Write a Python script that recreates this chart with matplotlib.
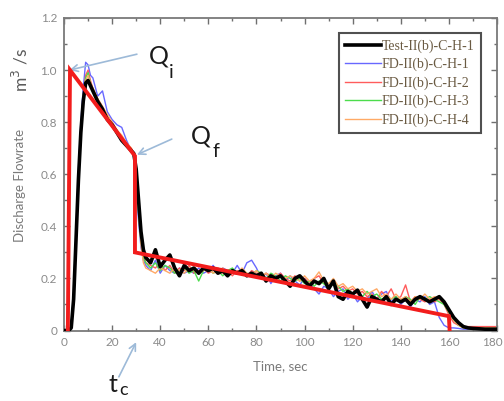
import matplotlib
matplotlib.use("Agg")
import matplotlib.pyplot as plt
import matplotlib.transforms as mtransforms
from matplotlib.ticker import MultipleLocator, FuncFormatter

# ---- data -------------------------------------------------------------
time_s = [0, 2, 3, 4, 5, 6, 7, 8, 9, 10, 11, 12,
          14, 16, 18, 20, 22, 24, 26, 28, 29, 30, 31, 32, 33, 34,
          36, 38, 40, 42, 44, 46, 48, 50, 52, 54,
          56, 58, 60, 62, 64, 66, 68, 70, 72, 74,
          76, 78, 80, 82, 84, 86, 88, 90, 92, 94,
          96, 98, 100, 102, 104, 106, 108, 110, 112, 114,
          116, 118, 120, 122, 124, 126, 128, 130, 132, 134,
          136, 138, 140, 142, 144, 146, 148, 150, 152, 154,
          156, 158, 160, 162, 164, 166, 168, 170, 175, 180]

test_1 = [0, 0, 0.01, 0.12, 0.35, 0.58, 0.76, 0.88, 0.95, 0.96, 0.94, 0.92,
          0.88, 0.85, 0.81, 0.79, 0.76, 0.73, 0.71, 0.69, 0.68, 0.62, 0.50, 0.38, 0.31, 0.28,
          0.26, 0.31, 0.245, 0.27, 0.29, 0.24, 0.21, 0.25, 0.23, 0.24,
          0.22, 0.24, 0.23, 0.24, 0.22, 0.23, 0.21, 0.23, 0.22, 0.23,
          0.21, 0.22, 0.21, 0.22, 0.19, 0.21, 0.20, 0.21, 0.19, 0.17,
          0.20, 0.21, 0.19, 0.17, 0.19, 0.18, 0.20, 0.16, 0.19, 0.13,
          0.12, 0.15, 0.14, 0.155, 0.12, 0.09, 0.13, 0.12, 0.11, 0.13,
          0.10, 0.12, 0.11, 0.12, 0.10, 0.12, 0.13, 0.12, 0.11, 0.12,
          0.13, 0.11, 0.08, 0.05, 0.03, 0.015, 0.01, 0.008, 0.005, 0.005]

fd_1 = [0, 0, 0.02, 0.15, 0.38, 0.62, 0.80, 0.93, 1.03, 1.02, 0.98, 0.97,
        0.90, 0.92, 0.84, 0.81, 0.79, 0.78, 0.73, 0.69, 0.67, 0.55, 0.42, 0.32, 0.27, 0.25,
        0.23, 0.27, 0.22, 0.25, 0.23, 0.22, 0.24, 0.22, 0.23, 0.22,
        0.24, 0.22, 0.23, 0.25, 0.22, 0.24, 0.23, 0.22, 0.25, 0.22,
        0.26, 0.27, 0.24, 0.20, 0.22, 0.18, 0.21, 0.22, 0.19, 0.21,
        0.19, 0.175, 0.20, 0.18, 0.16, 0.14, 0.17, 0.16, 0.13, 0.15,
        0.16, 0.12, 0.14, 0.11, 0.13, 0.12, 0.15, 0.12, 0.14, 0.15,
        0.11, 0.13, 0.10, 0.12, 0.09, 0.12, 0.11, 0.13, 0.10, 0.11,
        0.05, 0.02, 0.01, 0.01, 0.008, 0.005, 0.005, 0.005, 0.005, 0.005]

fd_2 = [0, 0, 0.01, 0.13, 0.36, 0.60, 0.78, 0.90, 0.98, 1.00, 0.96, 0.93,
        0.89, 0.86, 0.82, 0.80, 0.77, 0.74, 0.72, 0.70, 0.68, 0.60, 0.47, 0.35, 0.29, 0.26,
        0.25, 0.24, 0.26, 0.23, 0.25, 0.22, 0.24, 0.23, 0.25, 0.22,
        0.23, 0.24, 0.22, 0.23, 0.24, 0.22, 0.23, 0.21, 0.23, 0.22,
        0.21, 0.23, 0.22, 0.20, 0.22, 0.21, 0.20, 0.22, 0.20, 0.19,
        0.21, 0.19, 0.20, 0.18, 0.20, 0.21, 0.18, 0.17, 0.19, 0.16,
        0.17, 0.15, 0.16, 0.14, 0.15, 0.13, 0.14, 0.12, 0.15, 0.13,
        0.16, 0.12, 0.13, 0.175, 0.11, 0.13, 0.12, 0.11, 0.12, 0.11,
        0.12, 0.10, 0.06, 0.03, 0.02, 0.015, 0.015, 0.015, 0.015, 0.015]

fd_3 = [0, 0, 0.01, 0.14, 0.37, 0.60, 0.78, 0.90, 0.97, 0.99, 0.95, 0.92,
        0.88, 0.85, 0.82, 0.79, 0.77, 0.74, 0.71, 0.69, 0.68, 0.58, 0.45, 0.34, 0.28, 0.26,
        0.24, 0.26, 0.23, 0.25, 0.24, 0.22, 0.23, 0.24, 0.22, 0.23,
        0.19, 0.23, 0.24, 0.22, 0.23, 0.21, 0.23, 0.24, 0.22, 0.23,
        0.22, 0.21, 0.23, 0.22, 0.20, 0.22, 0.21, 0.19, 0.21, 0.20,
        0.19, 0.20, 0.18, 0.19, 0.17, 0.19, 0.18, 0.16, 0.18, 0.17,
        0.15, 0.16, 0.14, 0.15, 0.13, 0.15, 0.13, 0.14, 0.12, 0.13,
        0.12, 0.13, 0.11, 0.13, 0.12, 0.10, 0.13, 0.12, 0.13, 0.12,
        0.11, 0.10, 0.07, 0.04, 0.02, 0.01, 0.01, 0.01, 0.01, 0.01]

fd_4 = [0, 0, 0.01, 0.13, 0.36, 0.59, 0.77, 0.89, 0.96, 0.98, 0.95, 0.93,
        0.89, 0.86, 0.83, 0.80, 0.77, 0.75, 0.72, 0.70, 0.68, 0.59, 0.46, 0.33, 0.26, 0.24,
        0.23, 0.22, 0.24, 0.23, 0.22, 0.24, 0.23, 0.22, 0.24, 0.23,
        0.22, 0.23, 0.24, 0.22, 0.23, 0.24, 0.22, 0.23, 0.22, 0.24,
        0.22, 0.21, 0.23, 0.21, 0.22, 0.20, 0.22, 0.21, 0.20, 0.21,
        0.20, 0.19, 0.21, 0.19, 0.20, 0.225, 0.19, 0.18, 0.20, 0.17,
        0.18, 0.16, 0.17, 0.15, 0.16, 0.14, 0.15, 0.16, 0.13, 0.14,
        0.12, 0.14, 0.12, 0.13, 0.11, 0.13, 0.12, 0.14, 0.12, 0.13,
        0.12, 0.11, 0.08, 0.04, 0.02, 0.01, 0.01, 0.01, 0.01, 0.01]

# idealised hydrograph: rise to Q_i, fall to Q_f at t_c, step down, linear recession
ideal_t = [1.6, 2.5, 29.5, 29.5, 160, 160.3]
ideal_q = [0.0, 1.0, 0.67, 0.30, 0.055, 0.0]

series_labels = ["Test-II(b)-C-H-1", "FD-II(b)-C-H-1", "FD-II(b)-C-H-2",
                 "FD-II(b)-C-H-3", "FD-II(b)-C-H-4"]
x_ticks = [0, 20, 40, 60, 80, 100, 120, 140, 160, 180]
y_ticks = [0, 0.2, 0.4, 0.6, 0.8, 1.0, 1.2]

# ---- figure -----------------------------------------------------------
W, H = 504, 401
fig = plt.figure(figsize=(W / 100, H / 100), dpi=100)
ax = fig.add_axes([64 / W, 1 - 330.5 / H, 433 / W, 312.5 / H])

thin = 1.0
ax.plot(time_s, fd_1, color="#6868ff", lw=thin, zorder=2, label=series_labels[1])
ax.plot(time_s, fd_2, color="#ff5c5c", lw=thin, zorder=2, label=series_labels[2])
ax.plot(time_s, fd_3, color="#4cdc4c", lw=thin, zorder=2, label=series_labels[3])
ax.plot(time_s, fd_4, color="#ffaa66", lw=thin, zorder=2, label=series_labels[4])
ax.plot(time_s, test_1, color="black", lw=2.6, zorder=3, label=series_labels[0])
ax.plot(ideal_t, ideal_q, color="#f21c1c", lw=2.8, zorder=4, solid_joinstyle="miter")

ax.set_xlim(0, 180)
ax.set_ylim(0, 1.2)
ax.set_xticks(x_ticks)
ax.set_yticks(y_ticks)
ax.xaxis.set_minor_locator(MultipleLocator(10))
ax.yaxis.set_minor_locator(MultipleLocator(0.1))
ax.yaxis.set_major_formatter(FuncFormatter(lambda v, p: "0" if v == 0 else f"{v:.1f}"))

tick_col = "#8a8a8a"
for sp in ax.spines.values():
    sp.set_color("#7a7a7a")
    sp.set_linewidth(1.3)
ax.tick_params(which="both", direction="in", top=True, right=True,
               colors="#6f6f6f", labelcolor=tick_col, width=1.0)
ax.tick_params(which="major", length=4.5, labelsize=8.5, pad=5)
ax.tick_params(which="minor", length=2.5)
for lab in ax.get_xticklabels() + ax.get_yticklabels():
    lab.set_family("Lato")

# keep the last time label inside the canvas
fig.canvas.draw()
last = ax.get_xticklabels()[-1]
last.set_transform(last.get_transform() +
                   mtransforms.ScaledTranslation(-5 / 100, 0, fig.dpi_scale_trans))

# legend: order test first, then FD runs
handles, labels = ax.get_legend_handles_labels()
order = [4, 0, 1, 2, 3]
leg = ax.legend([handles[i] for i in order], [labels[i] for i in order],
                loc="upper right", bbox_to_anchor=(0.963, 0.952),
                prop={"family": "Liberation Serif", "size": 10},
                frameon=True, fancybox=False, framealpha=1,
                edgecolor="#505050", handlelength=2.6, handletextpad=0.05,
                labelspacing=0.36, borderpad=0.45, borderaxespad=0)
leg.get_frame().set_linewidth(1.5)
for t in leg.get_texts():
    t.set_color("#6a5a42")


def fx(px):
    return px / W


def fy(py):
    return 1 - py / H


# axis titles
fig.text(fx(280), fy(366), "Time, sec", ha="center", va="center",
         family="Lato", fontsize=9.5, color="#7a7a7a")
fig.text(fx(20), fy(185), "Discharge Flowrate", ha="center", va="center",
         rotation=90, family="Lato", fontsize=9.5, color="#7a7a7a")
fig.text(fx(20), fy(70), "m$^3$ /s", ha="center", va="center",
         rotation=90, family="Lato", fontsize=12.5, color="#5a5a5a")

# hydrograph annotations
arrow_kw = dict(arrowstyle="->", color="#9dbad8", lw=1.2, shrinkA=0, shrinkB=0,
                mutation_scale=12)
ax.annotate("", xy=(2.3, 1.0), xytext=(30.3, 1.061),
            arrowprops=arrow_kw, annotation_clip=False)
ax.annotate("", xy=(30.3, 0.675), xytext=(44.8, 0.735),
            arrowprops=arrow_kw, annotation_clip=False)
ax.annotate("", xy=(30.0, -0.045), xytext=(22.8, -0.178),
            arrowprops=arrow_kw, annotation_clip=False)

txt_col = "#1a1a1a"
fig.text(fx(159), fy(56), "Q", ha="center", va="center", family="Lato",
         fontsize=18, color=txt_col)
fig.text(fx(171), fy(72), "i", ha="center", va="center", family="Lato",
         fontsize=14, color=txt_col)
fig.text(fx(201), fy(136), "Q", ha="center", va="center", family="Lato",
         fontsize=18, color=txt_col)
fig.text(fx(216), fy(152), "f", ha="center", va="center", family="Lato",
         fontsize=14, color=txt_col)
fig.text(fx(113), fy(385), "t", ha="center", va="center", family="Lato",
         fontsize=18, color=txt_col)
fig.text(fx(124), fy(390), "c", ha="center", va="center", family="Lato",
         fontsize=13, color=txt_col)

fig.savefig("out.png", dpi=100)
